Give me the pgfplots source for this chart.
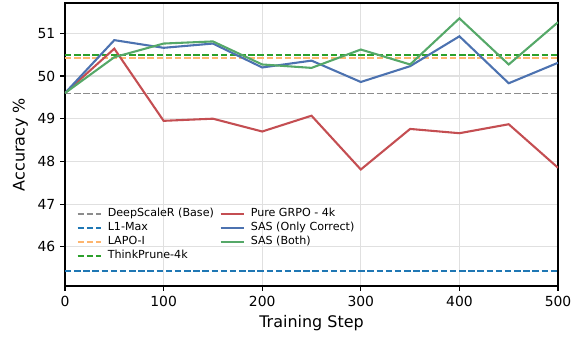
\documentclass[border=0pt]{standalone}
\usepackage{pgfplots}
\pgfplotsset{compat=1.18}
\usepackage{fontspec}
\setmainfont{DejaVu Sans}
\definecolor{cred}{HTML}{C44E52}
\definecolor{cblue}{HTML}{4C72B0}
\definecolor{cgreen}{HTML}{55A868}
\definecolor{dgray}{HTML}{8C8C8C}
\definecolor{dblue}{HTML}{1F77B4}
\definecolor{dorange}{HTML}{FDB56E}
\definecolor{dgreen}{HTML}{2CA02C}
\begin{document}
\begin{tikzpicture}
\begin{axis}[
  name=ax,
  scale only axis,
  width=355pt, height=203.8pt,
  xmin=0, xmax=500, ymin=45.08, ymax=51.71,
  xtick={0,100,200,300,400,500},
  ytick={46,47,48,49,50,51},
  tick align=outside,
  major tick length=3.5pt,
  xtick pos=bottom, ytick pos=left,
  grid=major,
  major grid style={draw=black!12, line width=0.8pt},
  axis line style={line width=0.8pt},
  tick style={line width=0.8pt, black},
  ticklabel style={font=\fontsize{10}{12}\selectfont},
  /pgf/number format/assume math mode=true,
  xlabel={Training Step}, ylabel={Accuracy \%},
  label style={font=\fontsize{11.5}{13}\selectfont},
  legend columns=2,
  legend style={at={(rel axis cs:0.015,0.295)}, anchor=north west, draw=none, fill=none,
    font=\fontsize{8}{9.5}\selectfont, row sep=-1.5pt, column sep=2pt,
    nodes={inner xsep=2pt}},
  legend cell align=left,
  legend image code/.code={\draw[#1] (0pt,0pt) -- (17pt,0pt);},
]
\pgfplotstableread{
x grpo oc both
0 49.60 49.60 49.60
50 50.64 50.84 50.44
100 48.95 50.66 50.76
150 49.00 50.76 50.81
200 48.70 50.20 50.27
250 49.07 50.36 50.19
300 47.81 49.86 50.62
350 48.76 50.23 50.27
400 48.66 50.93 51.35
450 48.87 49.83 50.27
500 47.85 50.31 51.26
}\data
\addplot[color=dgray, line width=1.3pt, dash pattern=on 4.6pt off 2pt, forget plot] coordinates {(0,49.59) (500,49.59)};
\addplot[color=dblue, line width=1.3pt, dash pattern=on 4.6pt off 2pt, forget plot] coordinates {(0,45.44) (500,45.44)};
\addplot[color=dorange, line width=1.3pt, dash pattern=on 4.6pt off 2pt, forget plot] coordinates {(0,50.43) (500,50.43)};
\addplot[color=dgreen, line width=1.3pt, dash pattern=on 4.6pt off 2pt, forget plot] coordinates {(0,50.49) (500,50.49)};
\addplot[color=cred, line width=1.5pt, forget plot] table[x=x,y=grpo] {\data};
\addplot[color=cblue, line width=1.5pt, forget plot] table[x=x,y=oc] {\data};
\addplot[color=cgreen, line width=1.5pt, forget plot] table[x=x,y=both] {\data};
\addlegendimage{color=dgray, line width=1.3pt, dash pattern=on 4.6pt off 2pt}
\addlegendentry{DeepScaleR (Base)}
\addlegendimage{color=cred, line width=1.5pt}
\addlegendentry{Pure GRPO - 4k}
\addlegendimage{color=dblue, line width=1.3pt, dash pattern=on 4.6pt off 2pt}
\addlegendentry{L1-Max}
\addlegendimage{color=cblue, line width=1.5pt}
\addlegendentry{SAS (Only Correct)}
\addlegendimage{color=dorange, line width=1.3pt, dash pattern=on 4.6pt off 2pt}
\addlegendentry{LAPO-I}
\addlegendimage{color=cgreen, line width=1.5pt}
\addlegendentry{SAS (Both)}
\addlegendimage{color=dgreen, line width=1.3pt, dash pattern=on 4.6pt off 2pt}
\addlegendentry{ThinkPrune-4k}
\end{axis}
\path ([xshift=-46.8pt,yshift=-37.4pt]ax.south west) rectangle ([xshift=15.1pt,yshift=2.16pt]ax.north east);
\end{tikzpicture}
\end{document}
